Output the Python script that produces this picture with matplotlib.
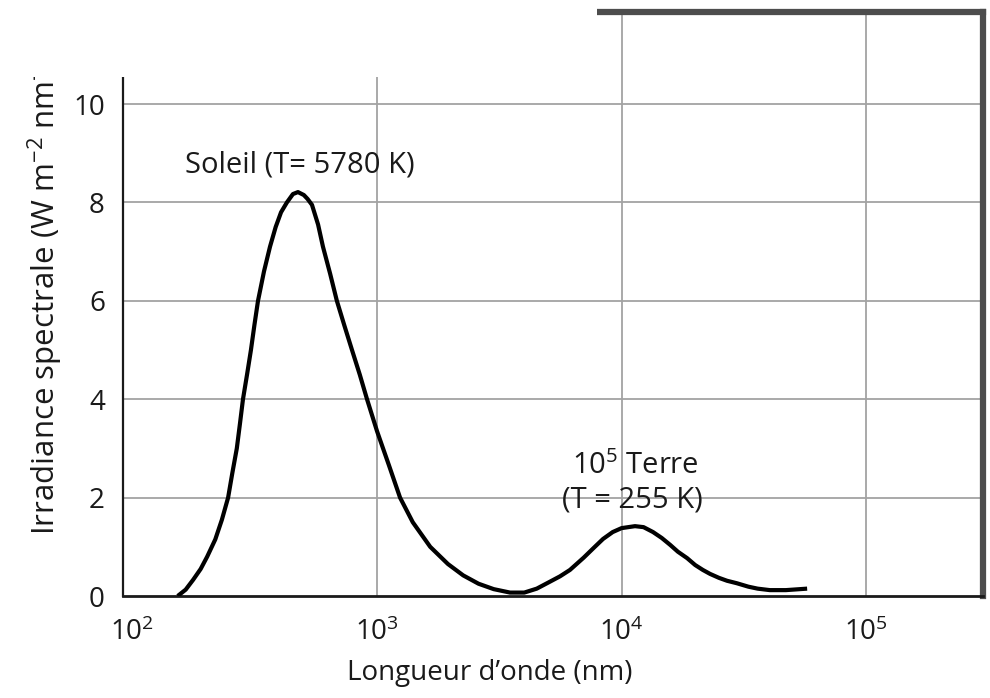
import matplotlib
matplotlib.use("Agg")
from matplotlib import pyplot as plt
from matplotlib.patches import Rectangle

# Values (wavelength in nm, irradiance)
wavelength = [153, 165, 177, 190, 202, 218, 232, 246, 256, 267, 275, 283,
              294, 305, 315, 326, 345, 365, 385, 405, 428, 453, 475, 502,
              520, 542, 574, 601, 643, 685, 735, 790, 850, 910, 1000, 1120,
              1242, 1400, 1650, 1950, 2250, 2600, 3000, 3500, 4000, 4500,
              5000, 5600, 6150, 7000, 7700, 8400, 9200, 10000, 11350,
              12300, 13450, 14600, 15800, 17000, 18540, 20000, 21500,
              23000, 25000, 27000, 29600, 33000, 36000, 40400, 47000, 57400]
irradiance = [0.0, 0.13, 0.33, 0.55, 0.8, 1.15, 1.55, 2.0, 2.5, 3.0, 3.5,
              4.0, 4.5, 5.0, 5.5, 6.0, 6.6, 7.1, 7.5, 7.8, 8.0, 8.17, 8.21,
              8.15, 8.07, 7.95, 7.55, 7.1, 6.55, 6.0, 5.5, 5.0, 4.5, 4.0,
              3.35, 2.65,
              2.0, 1.5, 1.0, 0.65, 0.42, 0.25, 0.14, 0.07, 0.07, 0.15,
              0.27, 0.4, 0.53, 0.78, 0.98, 1.16, 1.3, 1.38, 1.42,
              1.4, 1.3, 1.18, 1.04, 0.9, 0.77, 0.63, 0.53,
              0.45, 0.37, 0.31, 0.26, 0.19, 0.15, 0.12, 0.12, 0.15]

xticks = [1e2, 1e3, 1e4, 1e5]
xtick_labels = ["$10^{2}$", "$10^{3}$", "$10^{4}$", "$10^{5}$"]
yticks = [0, 2, 4, 6, 8, 10]

plt.rcParams["font.family"] = ["Open Sans", "DejaVu Sans"]
plt.rcParams["mathtext.fontset"] = "custom"
plt.rcParams["mathtext.rm"] = "Open Sans"
plt.rcParams["mathtext.it"] = "Open Sans:italic"
plt.rcParams["mathtext.default"] = "rm"

fig = plt.figure(figsize=(9.9, 6.98), dpi=100)
ax = fig.add_axes([0.1242, 0.1461, 0.8687, 0.8367])

ax.plot(wavelength, irradiance, color="black", lw=3,
        solid_joinstyle="round", solid_capstyle="butt", zorder=3)

ax.set_xscale("log")
ax.set_xlim(91.4, 300600)
ax.set_ylim(0, 11.87)
ax.set_xticks(xticks)
ax.set_xticklabels(xtick_labels)
ax.set_yticks(yticks)
ax.minorticks_off()
ax.tick_params(axis="both", length=0, labelsize=20, colors="#1a1a1a")
ax.tick_params(axis="x", pad=16)
ax.tick_params(axis="y", pad=13)

# grid
for v in yticks[1:]:
    ax.axhline(v, color="#a3a3a3", lw=1.3, zorder=1)
for v in xticks[1:]:
    ax.axvline(v, color="#a3a3a3", lw=1.3, zorder=1)

# spines
ax.spines["left"].set_linewidth(1.6)
ax.spines["bottom"].set_linewidth(2)
ax.spines["left"].set_color("#1a1a1a")
ax.spines["bottom"].set_color("#1a1a1a")
for s in ["top", "right"]:
    ax.spines[s].set_linewidth(4.5)
    ax.spines[s].set_color("#4d4d4d")

ax.text(164, 8.76, "Soleil (T= 5780 K)", fontsize=21, ha="left",
        va="center", color="#1a1a1a")
ax.text(6290, 2.64, "$10^{5}$ Terre", fontsize=21, ha="left",
        va="center", color="#1a1a1a")
ax.text(11040, 1.95, "(T = 255 K)", fontsize=21, ha="center",
        va="center", color="#1a1a1a")

fig.text(490 / 990, 1 - 673 / 698, "Longueur d\u2019onde (nm)", fontsize=20,
         ha="center", va="center", color="#1a1a1a")
fig.text(45 / 990, 1 - 535 / 698,
         "Irradiance spectrale (W m$^{-2}$ nm$^{-1}$)", fontsize=22.5,
         rotation=90, ha="center", va="bottom", color="#1a1a1a", zorder=5)

# white area of the scan hiding the upper left of the frame
mask = Rectangle((0, 1 - 77 / 698), 597 / 990, 77 / 698,
                 transform=fig.transFigure, facecolor="white",
                 edgecolor="none", zorder=10)
fig.add_artist(mask)

fig.savefig("out.png", dpi=100)
